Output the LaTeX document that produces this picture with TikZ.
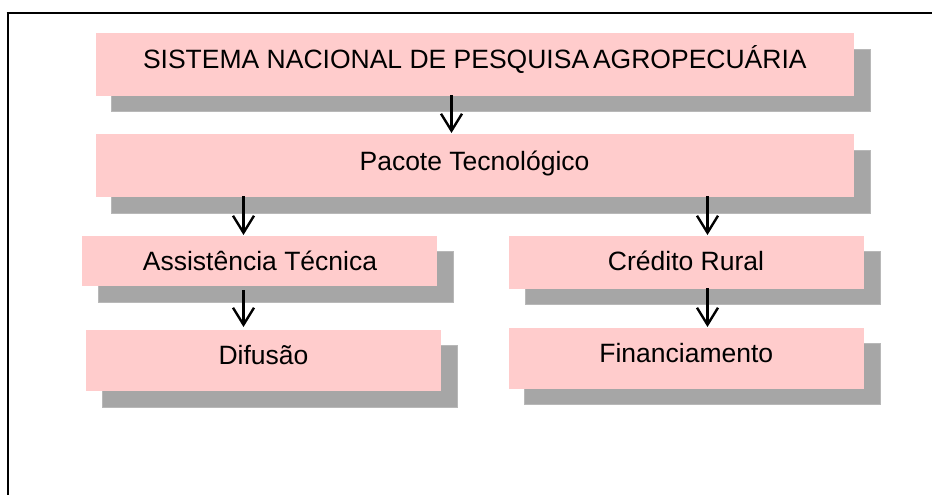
\documentclass[tikz,border=0pt]{standalone}
\usepackage{fontspec}
\setmainfont{Liberation Sans}
\usetikzlibrary{arrows.meta}
\definecolor{boxpink}{RGB}{255,204,204}
\definecolor{shadowgray}{RGB}{166,166,166}
\definecolor{shadowedge}{RGB}{184,184,184}
\tikzset{
  pinkbox/.style={fill=boxpink,draw=none,inner sep=0pt,outer sep=0pt},
  graybox/.style={fill=shadowgray,draw=shadowedge,line width=0.6pt},
  lbl/.style={anchor=base,inner sep=0pt,font=\fontsize{26.5}{28}\selectfont,text=black},
  arr/.style={draw=black,line width=2.4pt,-{Straight Barb[length=17pt,width=21pt,line width=2.4pt]},shorten >=1pt},
  frameline/.style={draw=black,line cap=butt}
}
\begin{document}
\begin{tikzpicture}[x=1pt,y=-1pt]
\useasboundingbox (0,0) rectangle (932,495);
% frame
\coordinate (fa) at (7.5,495);
\coordinate (fb) at (7.5,13);
\coordinate (fc) at (932,13);
\draw[frameline,line width=2pt] (fa) -- (fb);
\draw[frameline,line width=2.6pt] (6.5,13) -- (fc);
% shadows
\draw[graybox] (111,49.5) rectangle (870.5,111.5);
\draw[graybox] (111,150.5) rectangle (870.5,213);
\draw[graybox] (98.3,251.5) rectangle (453.7,302.5);
\draw[graybox] (102.3,345.5) rectangle (457.7,407.5);
\draw[graybox] (525.3,251.5) rectangle (880.7,304.5);
\draw[graybox] (524.3,343.5) rectangle (880,404.5);
% boxes
\path[pinkbox] (96,33) rectangle (854,96) node[pos=.5,minimum size=0pt] (sis) {};
\path[pinkbox] (96,134) rectangle (854,197) node[pos=.5] (pac) {};
\path[pinkbox] (82,236) rectangle (437,286) node[pos=.5] (ass) {};
\path[pinkbox] (86,330) rectangle (441,390.5) node[pos=.5] (dif) {};
\path[pinkbox] (509,236) rectangle (864,288.5) node[pos=.5] (cre) {};
\path[pinkbox] (509,328) rectangle (864,389) node[pos=.5] (fin) {};
% labels
\node[lbl] (tsis) at (474.8,68.5) {SISTEMA NACIONAL DE PESQUISA\hspace{-3.5pt} AGROPECUÁRIA};
\node[lbl] (tpac) at (474.5,170) {Pacote Tecnológico};
\node[lbl] (tass) at (260,270) {Assistência Técnica};
\node[lbl] (tdif) at (263.5,364) {Difusão};
\node[lbl] (tcre) at (686,270) {Crédito Rural};
\node[lbl] (tfin) at (686.3,362) {Financiamento};
% arrows
\coordinate (x1) at (451.5,0);
\coordinate (x2) at (243.5,0);
\coordinate (x3) at (707.5,0);
\coordinate (s1) at (0,95);
\coordinate (e1) at (0,134);
\coordinate (s2) at (0,196);
\coordinate (e2) at (0,236);
\coordinate (s3) at (0,290);
\coordinate (e3) at (0,328);
\coordinate (s4) at (0,288);
\draw[arr] (x1 |- s1) -- (x1 |- e1);
\draw[arr] (x2 |- s2) -- (x2 |- e2);
\draw[arr] (x3 |- s2) -- (x3 |- e2);
\draw[arr] (x2 |- s3) -- (x2 |- e3);
\draw[arr] (x3 |- s4) -- (x3 |- e3);
\end{tikzpicture}
\end{document}
